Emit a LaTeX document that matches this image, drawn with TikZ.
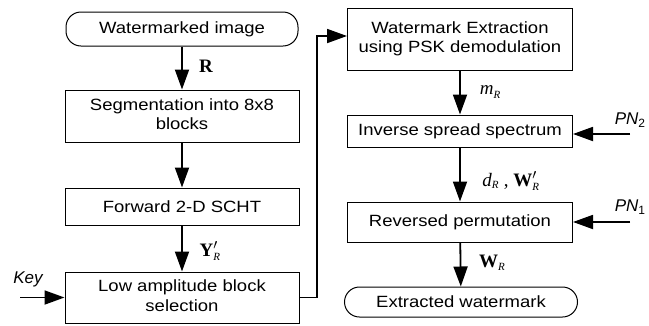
\documentclass[tikz,border=0pt]{standalone}
\usepackage{fontspec}
\usepackage{graphicx}
\setmainfont{Liberation Sans}
\newfontfamily\tms{Liberation Serif}
\usetikzlibrary{arrows.meta}
\newcommand{\sqz}[1]{\scalebox{1}[0.88]{#1}}
\newcommand{\lns}[2]{\scalebox{1}[0.88]{\begin{tabular}{@{}c@{}}#1\\#2\end{tabular}}}
\newcommand{\subR}{\raisebox{-3.5pt}{\fontsize{11}{11}\selectfont\tms\mdseries\itshape R}}
\newcommand{\mR}{\hbox{\fontsize{11}{11}\selectfont\tms\mdseries\itshape R}}
\newcommand{\subN}[1]{\raisebox{-3pt}{\fontsize{12}{12}\selectfont\upshape #1}}
\newcommand{\bfl}[1]{\hbox{\tms\bfseries #1}}
\begin{document}
\begin{tikzpicture}[x=1pt,y=1pt,
  font=\fontsize{18.5}{22.7}\selectfont,
  blk/.style={draw, line width=1pt, inner sep=0pt, align=center},
  stadium/.style={blk, rounded corners=15pt},
  arr/.style={line width=1.8pt, -{Triangle[length=20pt,width=14pt]}},
  lab/.style={inner sep=0pt, font=\fontsize{19}{20}\selectfont\tms},
  side/.style={inner sep=0pt, font=\fontsize{17}{20}\selectfont\itshape}]
\useasboundingbox (0,0) rectangle (649,-325);
% left column
\node[stadium, minimum width=232, minimum height=34] (start) at (182,-29) {\sqz{Watermarked image}};
\node[blk, minimum width=234, minimum height=52] (seg) at (182,-116) {\lns{Segmentation into 8x8}{blocks}};
\node[blk, minimum width=234, minimum height=37] (fwd) at (182,-206.5) {\sqz{Forward 2-D SCHT}};
\node[blk, minimum width=234, minimum height=51] (low) at (182,-297.5) {\lns{Low amplitude block}{selection}};
% right column
\node[blk, minimum width=225, minimum height=62] (wme) at (460,-39) {\lns{Watermark Extraction}{using PSK demodulation}};
\node[blk, minimum width=225, minimum height=32] (inv) at (460,-131) {\sqz{Inverse spread spectrum}};
\node[blk, minimum width=225, minimum height=40] (rev) at (460,-222) {\sqz{Reversed permutation}};
\node[stadium, minimum width=233, minimum height=30] (ext) at (461,-302) {\sqz{Extracted watermark}};
% side inputs
\coordinate (keyin) at (20,-297.5);
\coordinate (pn2in) at (630,-134);
\coordinate (pn1in) at (630,-222);
\node[side] (key) at (28,-279) {Key};
\node[side] (pn2) at (630,-120) {PN\subN{2}};
\node[side] (pn1) at (630,-207) {PN\subN{1}};
% connectors
\draw[arr] (start) -- (seg);
\draw[arr] (seg) -- (fwd);
\draw[arr] (fwd) -- (low);
\draw[arr] (keyin) -- (low.west);
\coordinate (loopa) at (317,-297.5);
\coordinate (loopb) at (317,-36);
\draw[arr] (low.east) -- (loopa) -- (loopb) -- (loopb -| wme.west);
\draw[arr] (wme) -- (inv);
\draw[arr] (pn2in) -- (pn2in -| inv.east);
\draw[arr] (inv) -- (rev);
\draw[arr] (pn1in) -- (rev.east);
\draw[arr] (rev) -- (ext);
% arrow labels
\node[lab] (lR) at (206,-66) {\bfseries R};
\node[lab] (lY) at (210,-251) {$\bfl{Y}'_{\mR}$};
\node[lab] (lm) at (490,-92) {\itshape m\subR};
\node[lab] (ld) at (511,-181) {$\hbox{\tms\itshape d}_{\mR}\;\hbox{\tms ,}\;\bfl{W}'_{\mR}$};
\node[lab] (lW) at (492,-263) {\bfseries W\subR};
\end{tikzpicture}
\end{document}
